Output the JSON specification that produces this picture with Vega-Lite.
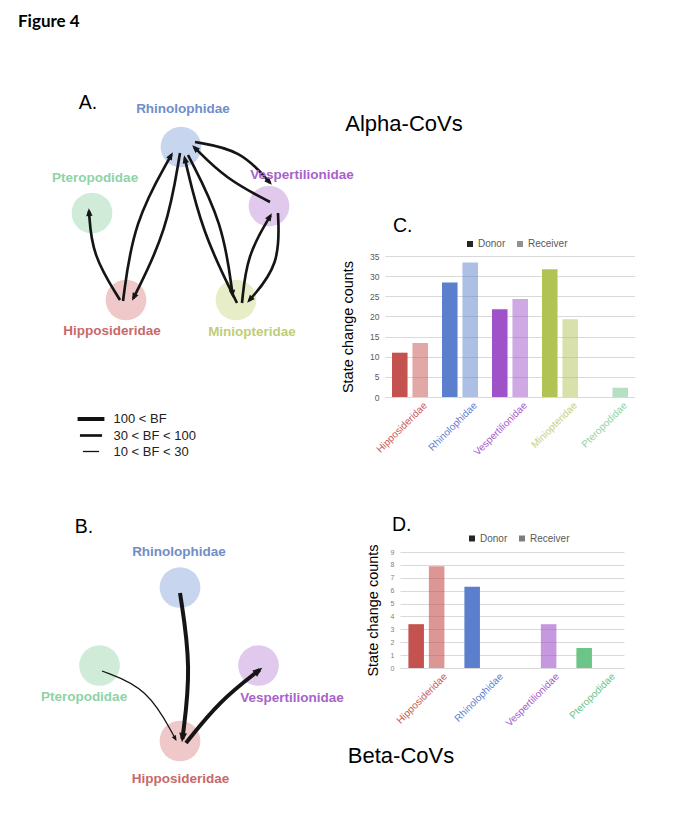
{
  "$schema": "https://vega.github.io/schema/vega-lite/v6.json",
  "padding": 0,
  "background": "white",
  "spacing": 0,
  "bounds": "full",
  "resolve": {"scale": {"color": "independent", "fill": "independent", "opacity": "independent", "strokeWidth": "independent", "size": "independent"}, "legend": {"color": "independent", "fill": "independent", "opacity": "independent", "strokeWidth": "independent", "size": "independent"}},
  "config": {"view": {"stroke": null}, "font": "Liberation Sans"},
  "datasets": {
    "nodes": [
      {"net": "A", "family": "Rhinolophidae", "x": 181, "y": 147, "lx": 183, "ly": 113},
      {"net": "A", "family": "Pteropodidae", "x": 92, "y": 213, "lx": 95, "ly": 181.5},
      {"net": "A", "family": "Vespertilionidae", "x": 269, "y": 206, "lx": 302, "ly": 179},
      {"net": "A", "family": "Hipposideridae", "x": 126, "y": 300, "lx": 112, "ly": 335},
      {"net": "A", "family": "Miniopteridae", "x": 236, "y": 300, "lx": 252, "ly": 335.5},
      {"net": "B", "family": "Rhinolophidae", "x": 180, "y": 587.5, "lx": 179, "ly": 555.5},
      {"net": "B", "family": "Pteropodidae", "x": 99.5, "y": 665.5, "lx": 84, "ly": 701},
      {"net": "B", "family": "Vespertilionidae", "x": 258.5, "y": 665.5, "lx": 292, "ly": 702},
      {"net": "B", "family": "Hipposideridae", "x": 180, "y": 741, "lx": 180.5, "ly": 783}
    ],
    "edges": [
      {"net": "A", "id": "A1", "from": "Hipposideridae", "to": "Pteropodidae", "bf": "30 < BF < 100", "px": [120, 92, 89], "py": [300, 255, 211]},
      {"net": "A", "id": "A2", "from": "Hipposideridae", "to": "Rhinolophidae", "bf": "30 < BF < 100", "px": [123, 133.5, 171.5], "py": [301, 222, 154.6]},
      {"net": "A", "id": "A3", "from": "Rhinolophidae", "to": "Hipposideridae", "bf": "30 < BF < 100", "px": [180, 167, 133.3], "py": [153, 231, 298.3]},
      {"net": "A", "id": "A4", "from": "Rhinolophidae", "to": "Miniopteridae", "bf": "30 < BF < 100", "px": [188, 223, 232.6], "py": [155, 223, 295]},
      {"net": "A", "id": "A5", "from": "Miniopteridae", "to": "Rhinolophidae", "bf": "30 < BF < 100", "px": [237, 202, 184.7], "py": [303, 232, 158]},
      {"net": "A", "id": "A6", "from": "Rhinolophidae", "to": "Vespertilionidae", "bf": "30 < BF < 100", "px": [195, 241, 270], "py": [142, 150, 182.8]},
      {"net": "A", "id": "A7", "from": "Vespertilionidae", "to": "Rhinolophidae", "bf": "30 < BF < 100", "px": [270, 226, 194.1], "py": [202, 179, 147.1]},
      {"net": "A", "id": "A8", "from": "Miniopteridae", "to": "Vespertilionidae", "bf": "30 < BF < 100", "px": [242, 247, 270.5], "py": [303, 255, 215.6]},
      {"net": "A", "id": "A9", "from": "Vespertilionidae", "to": "Miniopteridae", "bf": "30 < BF < 100", "px": [278, 280, 249], "py": [213, 265, 300.7]},
      {"net": "B", "id": "B1", "from": "Rhinolophidae", "to": "Hipposideridae", "bf": "100 < BF", "px": [180, 191.5, 182.4], "py": [593, 667.5, 739]},
      {"net": "B", "id": "B2", "from": "Pteropodidae", "to": "Hipposideridae", "bf": "10 < BF < 30", "px": [102, 148, 175.6], "py": [671, 688, 739.3]},
      {"net": "B", "id": "B3", "from": "Hipposideridae", "to": "Vespertilionidae", "bf": "100 < BF", "px": [186, 219.5, 259.6], "py": [743, 701, 669.8]}
    ],
    "notes": [
      {"panel": "A", "kind": "figure", "text": "Figure 4", "x": 18, "y": 27},
      {"panel": "A", "kind": "letter", "text": "A.", "x": 88, "y": 109},
      {"panel": "A", "kind": "virus", "text": "Alpha-CoVs", "x": 404, "y": 131},
      {"panel": "B", "kind": "letter", "text": "B.", "x": 84, "y": 533},
      {"panel": "B", "kind": "virus", "text": "Beta-CoVs", "x": 401, "y": 763}
    ],
    "alpha": [
      {"family": "Hipposideridae", "role": "Donor", "count": 11.0},
      {"family": "Hipposideridae", "role": "Receiver", "count": 13.4},
      {"family": "Rhinolophidae", "role": "Donor", "count": 28.4},
      {"family": "Rhinolophidae", "role": "Receiver", "count": 33.4},
      {"family": "Vespertilionidae", "role": "Donor", "count": 21.8},
      {"family": "Vespertilionidae", "role": "Receiver", "count": 24.3},
      {"family": "Miniopteridae", "role": "Donor", "count": 31.7},
      {"family": "Miniopteridae", "role": "Receiver", "count": 19.3},
      {"family": "Pteropodidae", "role": "Donor", "count": 0},
      {"family": "Pteropodidae", "role": "Receiver", "count": 2.3}
    ],
    "beta": [
      {"family": "Hipposideridae", "role": "Donor", "count": 3.4},
      {"family": "Hipposideridae", "role": "Receiver", "count": 7.9},
      {"family": "Rhinolophidae", "role": "Donor", "count": 6.3},
      {"family": "Rhinolophidae", "role": "Receiver", "count": 0},
      {"family": "Vespertilionidae", "role": "Donor", "count": 0},
      {"family": "Vespertilionidae", "role": "Receiver", "count": 3.4},
      {"family": "Pteropodidae", "role": "Donor", "count": 1.55},
      {"family": "Pteropodidae", "role": "Receiver", "count": 0}
    ]
  },
  "vconcat": [
    {
      "spacing": 0,
      "bounds": "flush",
      "resolve": {"scale": {"color": "independent", "fill": "independent", "opacity": "independent", "strokeWidth": "independent", "size": "independent"}, "legend": {"color": "independent", "fill": "independent", "opacity": "independent", "strokeWidth": "independent", "size": "independent"}},
      "hconcat": [
        {
          "width": 385,
          "height": 470,
          "layer": [
            {
              "data": {"name": "nodes"},
              "transform": [{"filter": "datum.net == 'A'"}],
              "mark": {"type": "point", "shape": "circle", "filled": true, "size": 1660, "opacity": 1, "strokeWidth": 0},
              "encoding": {
                "x": {"field": "x", "type": "quantitative", "scale": {"domain": [0, 385], "nice": false, "zero": false}, "axis": null},
                "y": {"field": "y", "type": "quantitative", "scale": {"domain": [0, 470], "reverse": true, "nice": false, "zero": false}, "axis": null},
                "fill": {"field": "family", "type": "nominal", "scale": {"domain": ["Hipposideridae", "Rhinolophidae", "Vespertilionidae", "Miniopteridae", "Pteropodidae"], "range": ["#efc8c9", "#c7d5ee", "#e0c9ed", "#e7edc6", "#d0ecd9"]}, "legend": null}
              }
            },
            {
              "data": {"name": "edges"},
              "transform": [
                {"filter": "datum.net == 'A'"},
                {"flatten": ["px", "py"]},
                {"window": [{"op": "row_number", "as": "k"}], "groupby": ["id"]}
              ],
              "mark": {"type": "line", "interpolate": "basis", "color": "#151515", "strokeCap": "butt"},
              "encoding": {
                "x": {"field": "px", "type": "quantitative", "scale": {"domain": [0, 385], "nice": false, "zero": false}, "axis": null},
                "y": {"field": "py", "type": "quantitative", "scale": {"domain": [0, 470], "reverse": true, "nice": false, "zero": false}, "axis": null},
                "detail": {"field": "id", "type": "nominal"},
                "order": {"field": "k", "type": "quantitative"},
                "strokeWidth": {
                  "field": "bf", "type": "ordinal",
                  "scale": {"domain": ["100 < BF", "30 < BF < 100", "10 < BF < 30"], "range": [4, 1.3]},
                  "legend": {
                    "title": null, "orient": "none", "legendX": 83, "legendY": 411, "direction": "vertical",
                    "symbolType": "M-2.4,0H2.4", "symbolSize": 75, "symbolStrokeColor": "#111111", "symbolFillColor": "transparent",
                    "labelFont": "Liberation Sans", "labelFontSize": 13, "labelColor": "#222222", "labelOffset": 14.5,
                    "rowPadding": 2, "padding": 0
                  }
                }
              }
            },
            {
              "data": {"name": "edges"},
              "transform": [
                {"filter": "datum.net == 'A'"},
                {"calculate": "datum.px[2]", "as": "ex"},
                {"calculate": "datum.py[2]", "as": "ey"},
                {"calculate": "atan2(datum.px[2] - datum.px[1], datum.py[1] - datum.py[2]) * 180 / PI", "as": "ang"}
              ],
              "mark": {"type": "point", "shape": "M0,-0.6L0.7,1.1L-0.7,1.1Z", "filled": true, "color": "#151515", "opacity": 1, "strokeWidth": 0},
              "encoding": {
                "x": {"field": "ex", "type": "quantitative", "scale": {"domain": [0, 385], "nice": false, "zero": false}, "axis": null},
                "y": {"field": "ey", "type": "quantitative", "scale": {"domain": [0, 470], "reverse": true, "nice": false, "zero": false}, "axis": null},
                "angle": {"field": "ang", "type": "quantitative", "scale": null},
                "size": {"field": "bf", "type": "ordinal", "scale": {"domain": ["100 < BF", "30 < BF < 100", "10 < BF < 30"], "range": [125, 45]}, "legend": null}
              }
            },
            {
              "data": {"name": "nodes"},
              "transform": [{"filter": "datum.net == 'A'"}],
              "mark": {"type": "text", "font": "Liberation Sans", "fontWeight": "bold", "fontSize": 13.5, "baseline": "alphabetic", "align": "center"},
              "encoding": {
                "x": {"field": "lx", "type": "quantitative", "scale": {"domain": [0, 385], "nice": false, "zero": false}, "axis": null},
                "y": {"field": "ly", "type": "quantitative", "scale": {"domain": [0, 470], "reverse": true, "nice": false, "zero": false}, "axis": null},
                "text": {"field": "family"},
                "color": {"field": "family", "type": "nominal", "scale": {"domain": ["Hipposideridae", "Rhinolophidae", "Vespertilionidae", "Miniopteridae", "Pteropodidae"], "range": ["#c8686b", "#6f8ec9", "#a862cb", "#c1cd78", "#8fd3a6"]}, "legend": null}
              }
            },
            {
              "data": {"name": "notes"},
              "transform": [{"filter": "datum.panel == 'A' && datum.kind == 'figure'"}],
              "mark": {"type": "text", "font": "Lato", "fontWeight": "bold", "fontSize": 17, "baseline": "alphabetic", "align": "left", "color": "#000000"},
              "encoding": {
                "x": {"field": "x", "type": "quantitative", "scale": {"domain": [0, 385], "nice": false, "zero": false}, "axis": null},
                "y": {"field": "y", "type": "quantitative", "scale": {"domain": [0, 470], "reverse": true, "nice": false, "zero": false}, "axis": null},
                "text": {"field": "text"}
              }
            },
            {
              "data": {"name": "notes"},
              "transform": [{"filter": "datum.panel == 'A' && datum.kind == 'letter'"}],
              "mark": {"type": "text", "font": "Liberation Sans", "fontSize": 19.5, "baseline": "alphabetic", "align": "center", "color": "#000000"},
              "encoding": {
                "x": {"field": "x", "type": "quantitative", "scale": {"domain": [0, 385], "nice": false, "zero": false}, "axis": null},
                "y": {"field": "y", "type": "quantitative", "scale": {"domain": [0, 470], "reverse": true, "nice": false, "zero": false}, "axis": null},
                "text": {"field": "text"}
              }
            },
            {
              "data": {"name": "notes"},
              "transform": [{"filter": "datum.panel == 'A' && datum.kind == 'virus'"}],
              "mark": {"type": "text", "font": "Liberation Sans", "fontSize": 22, "baseline": "alphabetic", "align": "center", "color": "#000000"},
              "encoding": {
                "x": {"field": "x", "type": "quantitative", "scale": {"domain": [0, 385], "nice": false, "zero": false}, "axis": null},
                "y": {"field": "y", "type": "quantitative", "scale": {"domain": [0, 470], "reverse": true, "nice": false, "zero": false}, "axis": null},
                "text": {"field": "text"}
              }
            }
          ]
        },
        {
          "spacing": 0,
          "bounds": "flush",
          "resolve": {"scale": {"color": "independent", "fill": "independent", "opacity": "independent", "strokeWidth": "independent", "size": "independent"}, "legend": {"color": "independent", "fill": "independent", "opacity": "independent", "strokeWidth": "independent", "size": "independent"}},
          "vconcat": [
            {
              "width": 10,
              "height": 256,
              "data": {"values": [{}]},
              "mark": {"type": "text"},
              "encoding": {"text": {"value": ""}}
            },
            {
              "width": 250,
              "height": 141,
              "data": {"name": "alpha"},
              "title": {"text": "C.", "anchor": "start", "frame": "group", "font": "Liberation Sans", "fontSize": 19.5, "fontWeight": "normal", "color": "#000000", "offset": 4, "dx": 8, "dy": 16, "baseline": "alphabetic"},
              "mark": {"type": "bar"},
              "encoding": {
                "x": {
                  "field": "family", "type": "nominal",
                  "sort": ["Hipposideridae", "Rhinolophidae", "Vespertilionidae", "Miniopteridae", "Pteropodidae"],
                  "scale": {"paddingInner": 0.28, "paddingOuter": 0.14},
                  "axis": {
                    "title": null, "labelAngle": -45, "labelAlign": "right", "labelBaseline": "top",
                    "labelFont": "Liberation Sans", "labelFontSize": 10,
                    "labelColor": {"expr": "datum.value == 'Hipposideridae' ? '#c85b5b' : datum.value == 'Rhinolophidae' ? '#5f82cb' : datum.value == 'Vespertilionidae' ? '#a55ccb' : datum.value == 'Miniopteridae' ? '#c4d080' : '#8fd3a7'"},
                    "ticks": false, "domainColor": "#d9d9d9", "labelPadding": 3, "labelOffset": 12
                  }
                },
                "xOffset": {"field": "role", "type": "nominal", "sort": ["Donor", "Receiver"], "scale": {"paddingInner": 0.24}},
                "y": {
                  "field": "count", "type": "quantitative",
                  "scale": {"domain": [0, 35], "nice": false},
                  "axis": {
                    "values": [0, 5, 10, 15, 20, 25, 30, 35], "grid": true, "gridColor": "#d9d9d9", "domain": false, "ticks": false,
                    "labelFont": "Liberation Sans", "labelFontSize": 8.5, "labelColor": "#595959", "labelPadding": 6,
                    "title": "State change counts", "titleFont": "Liberation Sans", "titleFontSize": 14.5, "titleFontWeight": "normal", "titleColor": "#000000", "titlePadding": 14
                  }
                },
                "color": {"field": "family", "type": "nominal", "scale": {"domain": ["Hipposideridae", "Rhinolophidae", "Vespertilionidae", "Miniopteridae", "Pteropodidae"], "range": ["#c4524f", "#5b7fcc", "#a053c9", "#b1c453", "#6cc486"]}, "legend": null},
                "opacity": {
                  "field": "role", "type": "nominal",
                  "scale": {"domain": ["Donor", "Receiver"], "range": [1, 0.5]},
                  "legend": {
                    "title": null, "orient": "none", "legendX": 80, "legendY": -17, "direction": "horizontal",
                    "symbolType": "square", "symbolSize": 36, "symbolFillColor": "#262626", "symbolStrokeColor": "#262626", "symbolStrokeWidth": 0,
                    "labelFont": "Liberation Sans", "labelFontSize": 10, "labelColor": "#595959", "labelOffset": 3, "columnPadding": 9, "padding": 0
                  }
                }
              }
            }
          ]
        }
      ]
    },
    {
      "spacing": 0,
      "bounds": "flush",
      "resolve": {"scale": {"color": "independent", "fill": "independent", "opacity": "independent", "strokeWidth": "independent", "size": "independent"}, "legend": {"color": "independent", "fill": "independent", "opacity": "independent", "strokeWidth": "independent", "size": "independent"}},
      "hconcat": [
        {
          "width": 400,
          "height": 345,
          "layer": [
            {
              "data": {"name": "nodes"},
              "transform": [{"filter": "datum.net == 'B'"}],
              "mark": {"type": "point", "shape": "circle", "filled": true, "size": 1660, "opacity": 1, "strokeWidth": 0},
              "encoding": {
                "x": {"field": "x", "type": "quantitative", "scale": {"domain": [0, 400], "nice": false, "zero": false}, "axis": null},
                "y": {"field": "y", "type": "quantitative", "scale": {"domain": [470, 815], "reverse": true, "nice": false, "zero": false}, "axis": null},
                "fill": {"field": "family", "type": "nominal", "scale": {"domain": ["Hipposideridae", "Rhinolophidae", "Vespertilionidae", "Miniopteridae", "Pteropodidae"], "range": ["#efc8c9", "#c7d5ee", "#e0c9ed", "#e7edc6", "#d0ecd9"]}, "legend": null}
              }
            },
            {
              "data": {"name": "edges"},
              "transform": [
                {"filter": "datum.net == 'B'"},
                {"flatten": ["px", "py"]},
                {"window": [{"op": "row_number", "as": "k"}], "groupby": ["id"]}
              ],
              "mark": {"type": "line", "interpolate": "basis", "color": "#151515", "strokeCap": "butt"},
              "encoding": {
                "x": {"field": "px", "type": "quantitative", "scale": {"domain": [0, 400], "nice": false, "zero": false}, "axis": null},
                "y": {"field": "py", "type": "quantitative", "scale": {"domain": [470, 815], "reverse": true, "nice": false, "zero": false}, "axis": null},
                "detail": {"field": "id", "type": "nominal"},
                "order": {"field": "k", "type": "quantitative"},
                "strokeWidth": {"field": "bf", "type": "ordinal", "scale": {"domain": ["100 < BF", "30 < BF < 100", "10 < BF < 30"], "range": [4, 1.3]}, "legend": null}
              }
            },
            {
              "data": {"name": "edges"},
              "transform": [
                {"filter": "datum.net == 'B'"},
                {"calculate": "datum.px[2]", "as": "ex"},
                {"calculate": "datum.py[2]", "as": "ey"},
                {"calculate": "atan2(datum.px[2] - datum.px[1], datum.py[1] - datum.py[2]) * 180 / PI", "as": "ang"}
              ],
              "mark": {"type": "point", "shape": "M0,-0.6L0.7,1.1L-0.7,1.1Z", "filled": true, "color": "#151515", "opacity": 1, "strokeWidth": 0},
              "encoding": {
                "x": {"field": "ex", "type": "quantitative", "scale": {"domain": [0, 400], "nice": false, "zero": false}, "axis": null},
                "y": {"field": "ey", "type": "quantitative", "scale": {"domain": [470, 815], "reverse": true, "nice": false, "zero": false}, "axis": null},
                "angle": {"field": "ang", "type": "quantitative", "scale": null},
                "size": {"field": "bf", "type": "ordinal", "scale": {"domain": ["100 < BF", "30 < BF < 100", "10 < BF < 30"], "range": [125, 45]}, "legend": null}
              }
            },
            {
              "data": {"name": "nodes"},
              "transform": [{"filter": "datum.net == 'B'"}],
              "mark": {"type": "text", "font": "Liberation Sans", "fontWeight": "bold", "fontSize": 13.5, "baseline": "alphabetic", "align": "center"},
              "encoding": {
                "x": {"field": "lx", "type": "quantitative", "scale": {"domain": [0, 400], "nice": false, "zero": false}, "axis": null},
                "y": {"field": "ly", "type": "quantitative", "scale": {"domain": [470, 815], "reverse": true, "nice": false, "zero": false}, "axis": null},
                "text": {"field": "family"},
                "color": {"field": "family", "type": "nominal", "scale": {"domain": ["Hipposideridae", "Rhinolophidae", "Vespertilionidae", "Miniopteridae", "Pteropodidae"], "range": ["#c8686b", "#6f8ec9", "#a862cb", "#c1cd78", "#8fd3a6"]}, "legend": null}
              }
            },
            {
              "data": {"name": "notes"},
              "transform": [{"filter": "datum.panel == 'B' && datum.kind == 'letter'"}],
              "mark": {"type": "text", "font": "Liberation Sans", "fontSize": 19.5, "baseline": "alphabetic", "align": "center", "color": "#000000"},
              "encoding": {
                "x": {"field": "x", "type": "quantitative", "scale": {"domain": [0, 400], "nice": false, "zero": false}, "axis": null},
                "y": {"field": "y", "type": "quantitative", "scale": {"domain": [470, 815], "reverse": true, "nice": false, "zero": false}, "axis": null},
                "text": {"field": "text"}
              }
            },
            {
              "data": {"name": "notes"},
              "transform": [{"filter": "datum.panel == 'B' && datum.kind == 'virus'"}],
              "mark": {"type": "text", "font": "Liberation Sans", "fontSize": 22, "baseline": "alphabetic", "align": "center", "color": "#000000"},
              "encoding": {
                "x": {"field": "x", "type": "quantitative", "scale": {"domain": [0, 400], "nice": false, "zero": false}, "axis": null},
                "y": {"field": "y", "type": "quantitative", "scale": {"domain": [470, 815], "reverse": true, "nice": false, "zero": false}, "axis": null},
                "text": {"field": "text"}
              }
            }
          ]
        },
        {
          "spacing": 0,
          "bounds": "flush",
          "resolve": {"scale": {"color": "independent", "fill": "independent", "opacity": "independent", "strokeWidth": "independent", "size": "independent"}, "legend": {"color": "independent", "fill": "independent", "opacity": "independent", "strokeWidth": "independent", "size": "independent"}},
          "vconcat": [
            {
              "width": 10,
              "height": 82,
              "data": {"values": [{}]},
              "mark": {"type": "text"},
              "encoding": {"text": {"value": ""}}
            },
            {
              "width": 224,
              "height": 116,
              "data": {"name": "beta"},
              "title": {"text": "D.", "anchor": "start", "frame": "group", "font": "Liberation Sans", "fontSize": 19.5, "fontWeight": "normal", "color": "#000000", "offset": 3.5, "dx": -8, "dy": 20, "baseline": "alphabetic"},
              "mark": {"type": "bar"},
              "encoding": {
                "x": {
                  "field": "family", "type": "nominal",
                  "sort": ["Hipposideridae", "Rhinolophidae", "Vespertilionidae", "Pteropodidae"],
                  "scale": {"paddingInner": 0.3, "paddingOuter": 0.15},
                  "axis": {
                    "title": null, "labelAngle": -45, "labelAlign": "right", "labelBaseline": "top",
                    "labelFont": "Liberation Sans", "labelFontSize": 10,
                    "labelColor": {"expr": "datum.value == 'Hipposideridae' ? '#c85b5b' : datum.value == 'Rhinolophidae' ? '#5f82cb' : datum.value == 'Vespertilionidae' ? '#a55ccb' : datum.value == 'Miniopteridae' ? '#c4d080' : '#6cc486'"},
                    "ticks": false, "domainColor": "#d9d9d9", "labelPadding": 3, "labelOffset": 14
                  }
                },
                "xOffset": {"field": "role", "type": "nominal", "sort": ["Donor", "Receiver"], "scale": {"paddingInner": 0.23}},
                "y": {
                  "field": "count", "type": "quantitative",
                  "scale": {"domain": [0, 9], "nice": false},
                  "axis": {
                    "values": [0, 1, 2, 3, 4, 5, 6, 7, 8, 9], "grid": true, "gridColor": "#d9d9d9", "domain": false, "ticks": false,
                    "labelFont": "Liberation Sans", "labelFontSize": 7, "labelColor": "#7f7f7f", "labelPadding": 6,
                    "title": "State change counts", "titleFont": "Liberation Sans", "titleFontSize": 14.5, "titleFontWeight": "normal", "titleColor": "#000000", "titlePadding": 10
                  }
                },
                "color": {"field": "family", "type": "nominal", "scale": {"domain": ["Hipposideridae", "Rhinolophidae", "Vespertilionidae", "Miniopteridae", "Pteropodidae"], "range": ["#c4524f", "#5b7fcc", "#a053c9", "#b1c453", "#6cc486"]}, "legend": null},
                "opacity": {
                  "field": "role", "type": "nominal",
                  "scale": {"domain": ["Donor", "Receiver"], "range": [1, 0.6]},
                  "legend": {
                    "title": null, "orient": "none", "legendX": 67, "legendY": -18.5, "direction": "horizontal",
                    "symbolType": "square", "symbolSize": 36, "symbolFillColor": "#262626", "symbolStrokeColor": "#262626", "symbolStrokeWidth": 0,
                    "labelFont": "Liberation Sans", "labelFontSize": 10, "labelColor": "#595959", "labelOffset": 3, "columnPadding": 9, "padding": 0
                  }
                }
              }
            }
          ]
        }
      ]
    }
  ]
}
